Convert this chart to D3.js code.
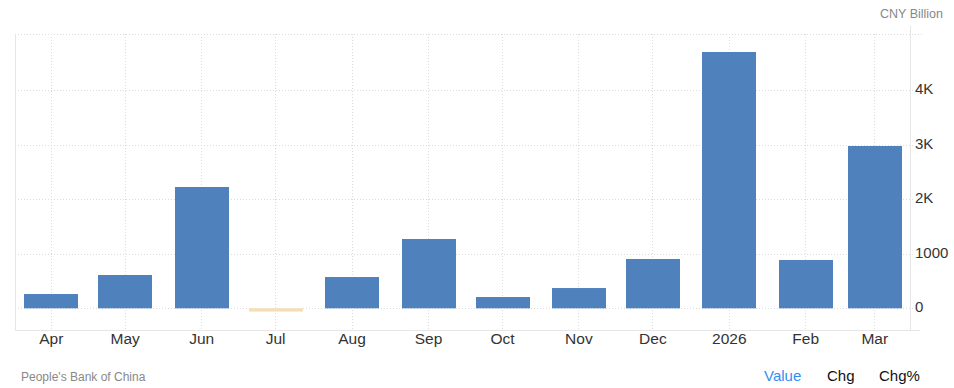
<!DOCTYPE html>
<html>
<head>
<meta charset="utf-8">
<script src="https://cdn.jsdelivr.net/npm/d3@7"></script>
<style>
  html, body { margin: 0; padding: 0; background: #fff; }
  svg { display: block; font-family: Arial, "Liberation Sans", Helvetica, sans-serif; }
</style>
</head>
<body>
<svg id="chart" width="954" height="388"></svg>
<script>
// ---- data ----
const dates = ["2025-04-01","2025-05-01","2025-06-01","2025-07-01","2025-08-01","2025-09-01",
               "2025-10-01","2025-11-01","2025-12-01","2026-01-01","2026-02-01","2026-03-01"];
const tickLabels = ["Apr","May","Jun","Jul","Aug","Sep","Oct","Nov","Dec","2026","Feb","Mar"];
const values = [262, 611, 2226, -60, 574, 1272, 207, 372, 905, 4703, 886, 2978];
const yTicks = [0, 1000, 2000, 3000, 4000];
const yTickLabels = ["0", "1000", "2K", "3K", "4K"];
const unitLabel = "CNY Billion";
const sourceLabel = "People's Bank of China";
const tabs = ["Value", "Chg", "Chg%"];

// ---- layout ----
const svg = d3.select("#chart");
const pLeft = 15, pRight = 910, pTop = 34, pBottom = 330;
const parse = d3.utcParse("%Y-%m-%d");
const dts = dates.map(parse);

const x = d3.scaleUtc()
  .domain([new Date(Date.UTC(2025, 2, 17, 12)), new Date(Date.UTC(2026, 2, 15, 12))])
  .range([pLeft, pRight]);
const y = d3.scaleLinear().domain([-398, 5033]).range([pBottom, pTop]);

const gridColor = "#dcdcdc";

// horizontal grid
svg.append("g").selectAll("line").data(yTicks).join("line")
  .attr("x1", pLeft).attr("x2", pRight + 4)
  .attr("y1", d => Math.round(y(d)) + 0.5).attr("y2", d => Math.round(y(d)) + 0.5)
  .attr("stroke", gridColor).attr("stroke-dasharray", "1,2");
// top line
svg.append("line").attr("x1", pLeft).attr("x2", pRight + 12)
  .attr("y1", pTop + 0.5).attr("y2", pTop + 0.5)
  .attr("stroke", gridColor).attr("stroke-dasharray", "1,2");

// vertical grid
svg.append("g").selectAll("line").data(dts).join("line")
  .attr("x1", d => Math.round(x(d)) + 0.5).attr("x2", d => Math.round(x(d)) + 0.5)
  .attr("y1", pTop).attr("y2", pBottom)
  .attr("stroke", gridColor).attr("stroke-dasharray", "1,2");

// axis frame lines
svg.append("line").attr("x1", pLeft + 0.5).attr("x2", pLeft + 0.5).attr("y1", pTop).attr("y2", pBottom)
  .attr("stroke", "#e6e6e6");
svg.append("line").attr("x1", pRight + 0.5).attr("x2", pRight + 0.5).attr("y1", pTop - 8).attr("y2", pBottom)
  .attr("stroke", "#e6e6e6");
svg.append("line").attr("x1", pLeft).attr("x2", pRight + 10).attr("y1", pBottom + 0.5).attr("y2", pBottom + 0.5)
  .attr("stroke", "#e6e6e6");

// bars
const barW = 54;
svg.append("g").selectAll("rect").data(values).join("rect")
  .attr("x", (d, i) => Math.round(x(dts[i]) + 0.7 - barW / 2))
  .attr("width", barW)
  .attr("y", d => d >= 0 ? y(d) : y(0))
  .attr("height", d => Math.abs(y(d) - y(0)))
  .attr("fill", d => d >= 0 ? "#4f81bd" : "#f4deb3");

// x axis labels
const xAxis = d3.axisBottom(x).tickValues(dts).tickSize(0).tickPadding(0)
  .tickFormat((d, i) => tickLabels[i]);
const gx = svg.append("g").attr("transform", `translate(0, ${pBottom})`).call(xAxis);
gx.select(".domain").remove();
gx.selectAll("text").attr("dy", null).attr("y", 13.5)
  .attr("font-size", 15.5).attr("fill", "#333").attr("font-family", "Arial, 'Liberation Sans', sans-serif");

// y axis labels
const yAxis = d3.axisRight(y).tickValues(yTicks).tickSize(0).tickPadding(0)
  .tickFormat((d, i) => yTickLabels[i]);
const gy = svg.append("g").attr("transform", `translate(${pRight + 5}, 0)`).call(yAxis);
gy.select(".domain").remove();
gy.selectAll("text").attr("dy", null).attr("y", 3.5).attr("x", 0)
  .attr("font-size", 15).attr("fill", "#333").attr("font-family", "Arial, 'Liberation Sans', sans-serif");

// unit label
svg.append("text").attr("x", 943).attr("y", 18).attr("text-anchor", "end")
  .attr("font-size", 12.5).attr("fill", "#888").text(unitLabel);

// source
svg.append("text").attr("x", 21).attr("y", 381)
  .attr("font-size", 12).attr("fill", "#888").text(sourceLabel);

// tabs
const tabX = [764, 827, 879];
const tabColors = ["#2e8ff4", "#111", "#111"];
svg.append("g").selectAll("text").data(tabs).join("text")
  .attr("x", (d, i) => tabX[i]).attr("y", 381)
  .attr("font-size", 15).attr("fill", (d, i) => tabColors[i]).text(d => d);
</script>
</body>
</html>
